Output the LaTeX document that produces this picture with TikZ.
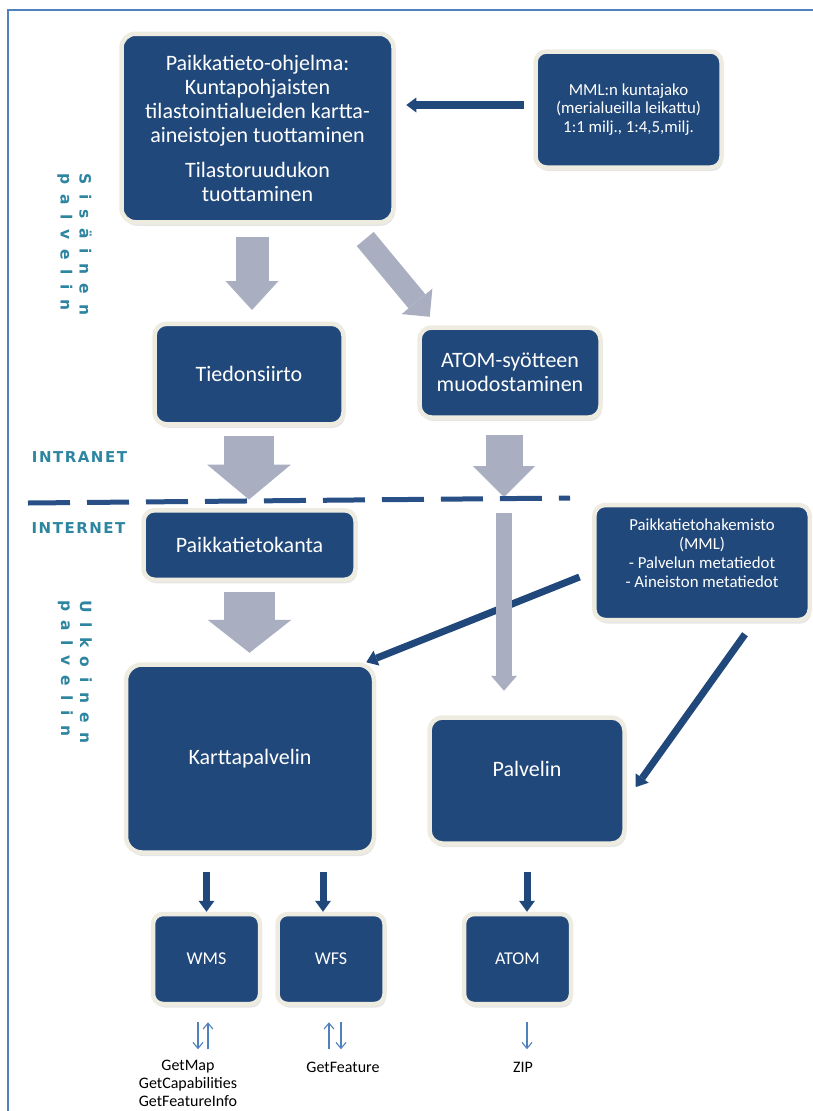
\documentclass[tikz,border=0pt]{standalone}
\usepackage{fontspec}
\setmainfont{Carlito}
\newfontfamily\zonefont[LetterSpace=62]{DejaVu Sans}
\newfontfamily\netfont[LetterSpace=10]{DejaVu Sans}
\usepackage{tikz}
\usetikzlibrary{arrows.meta, positioning, calc, shadows}
\definecolor{boxblue}{RGB}{33,72,122}
\definecolor{boxrim}{RGB}{238,236,225}
\definecolor{flowgray}{RGB}{169,175,193}
\definecolor{framecol}{RGB}{79,129,189}
\definecolor{linenavy}{RGB}{40,80,135}
\definecolor{zoneteal}{RGB}{45,133,160}

\begin{document}
\begin{tikzpicture}[
  x=1pt, y=-1pt,
  blockbox/.style={rectangle, rounded corners=14pt, fill=boxblue, draw=boxrim, line width=4.5pt, text=white, align=center, inner sep=0pt, font=\fontsize{22pt}{24pt}\selectfont, drop shadow={shadow xshift=1.5pt, shadow yshift=-3.5pt, opacity=0.2}},
  notebox/.style={blockbox, rounded corners=11pt, font=\fontsize{16.8pt}{18.7pt}\selectfont},
  servbox/.style={blockbox, rounded corners=10pt, minimum width=107pt, minimum height=90pt, font=\fontsize{18pt}{20pt}\selectfont},
  flowarrow/.style={draw=flowgray},
  navyarrow/.style={draw=boxblue, line width=7pt, -{Triangle[width=16pt, length=11pt, line width=0pt]}},
  thinarrow/.style={draw=framecol, line width=1.1pt, -{Straight Barb[length=6pt, width=10pt]}},
  zonelabel/.style={text=zoneteal, font=\zonefont\bfseries\fontsize{15.5pt}{19pt}\selectfont, align=left, rotate=-90, inner sep=0pt},
  netlabel/.style={text=zoneteal, font=\netfont\bfseries\fontsize{15pt}{18pt}\selectfont, inner sep=0pt},
  oplabel/.style={font=\fontsize{16pt}{18pt}\selectfont, align=center, inner sep=0pt},
]
  \fill[white, use as bounding box] (0,0) rectangle (812,1111);
  \draw[framecol, line width=2pt] (830,10) -- (8,10) -- (8,1130);

  % Internal service (top)
  \node[blockbox, minimum width=272pt, minimum height=188.5pt] (prog) at (257.5,128)
    {Paikkatieto-ohjelma:\\Kuntapohjaisten\\tilastointialueiden kartta-\\aineistojen tuottaminen\\[11pt]Tilastoruudukon\\tuottaminen};
  \node[notebox, minimum width=186pt, minimum height=116pt] (mml) at (628.5,109.5)
    {MML:n kuntajako\\(merialueilla leikattu)\\1:1 milj., 1:4,5,milj.};
  \node[blockbox, rounded corners=12pt, minimum width=189pt, minimum height=100.5pt] (tied) at (249,374) {Tiedonsiirto};
  \node[blockbox, rounded corners=12pt, minimum width=181pt, minimum height=90pt] (atomf) at (510,372.5) {ATOM-syötteen\\muodostaminen};

  % External service (bottom)
  \node[blockbox, rounded corners=11pt, minimum width=212pt, minimum height=69.5pt] (kanta) at (249.5,545) {Paikkatietokanta};
  \node[notebox, minimum width=215.5pt, minimum height=115pt] (hake) at (702,562.5)
    {Paikkatietohakemisto\\(MML)\\- Palvelun metatiedot\\- Aineiston metatiedot\\~};
  \node[blockbox, rounded corners=16pt, minimum width=248pt, minimum height=188pt] (kartta) at (250,758.5) {Karttapalvelin};
  \node[blockbox, rounded corners=13pt, minimum width=195pt, minimum height=126pt] (palv) at (527,780.5) {Palvelin\\~};

  % Interfaces
  \node[servbox] (wms) at (206.5,959) {WMS};
  \node[servbox] (wfs) at (331,959) {WFS};
  \node[servbox] (atom) at (517.5,959) {ATOM};

  % Gray flow arrows
  \coordinate (atomgate) at (504,497);
  \draw[flowarrow, line width=33pt, -{Triangle[width=53pt, length=29pt, line width=0pt]}, shorten <=12.5pt, shorten >=11.5pt]
    ([xshift=3pt]tied.north |- prog.south) -- ([xshift=3pt]tied.north);
  \draw[flowarrow, line width=22pt, -{Triangle[width=40pt, length=20pt, line width=0pt]}]
    ([xshift=-30.5pt, yshift=-14.5pt]prog.south east) -- ([xshift=12.5pt, yshift=8.5pt]atomf.north west);
  \draw[flowarrow, line width=50pt, -{Triangle[width=84pt, length=35pt, line width=0pt]}, shorten <=9pt, shorten >=8.5pt]
    (tied.south) -- (tied.south |- kanta.north);
  \draw[flowarrow, line width=37pt, -{Triangle[width=62pt, length=31pt, line width=0pt]}, shorten <=15.5pt]
    (atomf.south -| atomgate) -- (atomgate);
  \draw[flowarrow, line width=51pt, -{Triangle[width=84pt, length=33pt, line width=0pt]}, shorten <=10pt, shorten >=9.5pt]
    (kanta.south) -- (kanta.south |- kartta.north);

  % Navy arrows
  \draw[navyarrow, line width=8pt, -{Triangle[width=15pt, length=10pt, line width=0pt]}, shorten <=9.5pt, shorten >=10.5pt]
    ([yshift=4.5pt]mml.west) -- ([yshift=4.5pt]mml.west -| prog.east);
  \draw[navyarrow] ([xshift=-12.5pt, yshift=-14.5pt]hake.west) -- ([xshift=-10pt]kartta.north east);
  \draw[navyarrow] ([xshift=43pt, yshift=-12pt]hake.south) -- ([xshift=9pt, yshift=-6.5pt]palv.east);
  \draw[flowarrow, line width=16pt, -{Triangle[width=26pt, length=15pt, line width=0pt]}, shorten <=16pt, shorten >=24.5pt]
    (atomgate) -- (atomgate |- palv.north);
  \draw[navyarrow, shorten <=17.5pt] (wms.north |- kartta.south) -- (wms.north);
  \draw[navyarrow, shorten <=17.5pt] ([xshift=-8pt]wfs.north |- kartta.south) -- ([xshift=-8pt]wfs.north);
  \draw[navyarrow, shorten <=26.5pt] (palv.south) -- (palv.south |- atom.north);

  % Intranet / internet border
  \coordinate (netL) at (28,503);
  \coordinate (netR) at (570,498);
  \draw[linenavy, line width=5pt, dash pattern=on 42pt off 17pt] (netL) -- (netR);
  \node[netlabel] (intra) at (79.5,457) {INTRANET};
  \node[netlabel] (inter) at (78.5,528) {INTERNET};
  \node[zonelabel] (sisa) at (74.5,244.5) {Sisäinen\\palvelin};
  \node[zonelabel] (ulko) at (75,672) {Ulkoinen\\palvelin};

  % Requests
  \draw[thinarrow] ([xshift=-8.5pt, yshift=-16pt]wms.south) -- ++(0,27);
  \draw[thinarrow] ([xshift=1.5pt, yshift=-43pt]wms.south) -- ++(0,-27);
  \draw[thinarrow] ([xshift=-2pt, yshift=-43pt]wfs.south) -- ++(0,-27);
  \draw[thinarrow] ([xshift=10pt, yshift=-16pt]wfs.south) -- ++(0,27);
  \draw[thinarrow] ([xshift=9.5pt, yshift=-16pt]atom.south) -- ++(0,27);
  \node[oplabel] (wmsops) at (188,1083) {GetMap\\GetCapabilities\\GetFeatureInfo};
  \node[oplabel] (wfsops) at (343,1067) {GetFeature};
  \node[oplabel] (atomops) at (523,1067) {ZIP};
\end{tikzpicture}
\end{document}
